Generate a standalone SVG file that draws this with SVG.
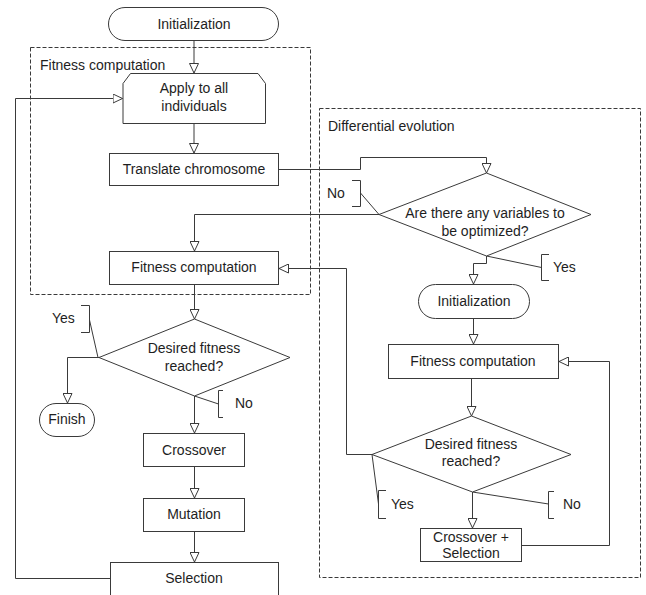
<svg xmlns="http://www.w3.org/2000/svg" width="646" height="595" viewBox="0 0 646 595">
<style>
.n{fill:#fff;stroke:#3a3a3a;stroke-width:1}
.t{font-family:"Liberation Sans",Arial,sans-serif;font-size:14px;fill:#1e1e1e}
.m{text-anchor:middle}
.c{fill:none;stroke:#3a3a3a;stroke-width:1}
.a{marker-end:url(#arr)}
.d{fill:none;stroke:#3a3a3a;stroke-width:1;stroke-dasharray:4 2}
</style>
<defs>
<marker id="arr" viewBox="0 0 10 10" refX="10" refY="5" markerWidth="10" markerHeight="10" markerUnits="userSpaceOnUse" orient="auto">
<path d="M0.5,0.5 L10,5 L0.5,9.5 Z" fill="#fff" stroke="#3a3a3a" stroke-width="1"/>
</marker>
</defs>
<rect width="646" height="595" fill="#fff"/>
<g id="groups">
<rect class="d" x="30.5" y="47.5" width="280" height="247"/>
<text class="t" x="40" y="70">Fitness computation</text>
<rect class="d" x="319.5" y="108.5" width="321" height="469"/>
<text class="t" x="328" y="131">Differential evolution</text>
</g>
<g id="connectors">
<path class="c a" d="M194,41 V73"/>
<path class="c a" d="M194,124 V153"/>
<path class="c a" d="M279,169.5 H360.5 V157.5 H486.5 V173"/>
<path class="c a" d="M379,214.5 H194.5 V251"/>
<path class="c a" d="M486.5,256 V263.5 H473.5 V284"/>
<path class="c a" d="M473.5,319 V344"/>
<path class="c a" d="M471.5,379 V416"/>
<path class="c a" d="M372,454.5 H346.5 V268.5 H279"/>
<path class="c a" d="M472.5,492 V528"/>
<path class="c a" d="M522,545.5 H609.5 V361.5 H559"/>
<path class="c a" d="M194.5,284 V319"/>
<path class="c a" d="M100,357.5 H67.5 V403"/>
<path class="c a" d="M194.5,396 V433"/>
<path class="c a" d="M194.5,467 V498"/>
<path class="c a" d="M194.5,532 V562"/>
<path class="c a" d="M110,578.5 H15.5 V98.5 H122.5"/>
</g>
<g id="labels">
<path class="c" d="M352,180.5 H360.5 V206.5 H352"/>
<path class="c" d="M360.5,193 L379,214.5"/>
<text class="t" x="327" y="198">No</text>
<path class="c" d="M549,254.5 H541.5 V280.5 H549"/>
<path class="c" d="M486.5,256 L541.5,267.5"/>
<text class="t" x="553" y="272">Yes</text>
<path class="c" d="M81,305.5 H89.5 V332.5 H81"/>
<path class="c" d="M89.5,320 L98,357.5"/>
<text class="t" x="52" y="323">Yes</text>
<path class="c" d="M223,390.5 H218.5 V417.5 H223"/>
<path class="c" d="M194.5,396 L218.5,404"/>
<text class="t" x="235" y="408">No</text>
<path class="c" d="M386,490.5 H378.5 V518.5 H386"/>
<path class="c" d="M372,454.5 L378.5,504"/>
<text class="t" x="391" y="509">Yes</text>
<path class="c" d="M554,491.5 H548.5 V518.5 H554"/>
<path class="c" d="M472.5,492 L548.5,504"/>
<text class="t" x="563" y="509">No</text>
</g>
<g id="init1">
<rect class="n" x="108.5" y="7.5" width="170" height="33" rx="16.5"/>
<text class="t m" x="194" y="29">Initialization</text>
</g>
<g id="apply">
<path class="n" d="M123,83.5 L130.5,73.5 H258 L265.5,83.5 V123.5 H123 Z"/>
<text class="t m" x="194" y="93">Apply to all</text>
<text class="t m" x="194" y="111">individuals</text>
</g>
<g id="translate">
<rect class="n" x="109.5" y="153.5" width="169" height="32"/>
<text class="t m" x="194" y="174">Translate chromosome</text>
</g>
<g id="fitness1">
<rect class="n" x="109.5" y="251.5" width="169" height="33"/>
<text class="t m" x="194" y="272">Fitness computation</text>
</g>
<g id="desired1">
<path class="n" d="M194.5,319 L290,357.5 L194.5,396 L99,357.5 Z"/>
<text class="t m" x="194" y="353">Desired fitness</text>
<text class="t m" x="194" y="371">reached?</text>
</g>
<g id="finish">
<rect class="n" x="39.5" y="403.5" width="55" height="33" rx="16.5"/>
<text class="t m" x="67" y="424">Finish</text>
</g>
<g id="crossover">
<rect class="n" x="143.5" y="433.5" width="101" height="33"/>
<text class="t m" x="194" y="455">Crossover</text>
</g>
<g id="mutation">
<rect class="n" x="143.5" y="498.5" width="101" height="33"/>
<text class="t m" x="194" y="519">Mutation</text>
</g>
<g id="selection">
<rect class="n" x="110.5" y="562.5" width="168" height="40"/>
<text class="t m" x="194" y="583">Selection</text>
</g>
<g id="variables">
<path class="n" d="M486.5,173 L591,214.5 L486.5,256 L379,214.5 Z"/>
<text class="t m" x="485" y="218">Are there any variables to</text>
<text class="t m" x="485" y="236">be optimized?</text>
</g>
<g id="init2">
<rect class="n" x="418.5" y="284.5" width="111" height="34" rx="17"/>
<text class="t m" x="474" y="306">Initialization</text>
</g>
<g id="fitness2">
<rect class="n" x="388.5" y="344.5" width="170" height="34"/>
<text class="t m" x="473" y="366">Fitness computation</text>
</g>
<g id="desired2">
<path class="n" d="M471.5,416 L571,454.5 L472.5,492 L372,454.5 Z"/>
<text class="t m" x="471" y="449">Desired fitness</text>
<text class="t m" x="471" y="466">reached?</text>
</g>
<g id="crosssel">
<rect class="n" x="420.5" y="528.5" width="101" height="33"/>
<text class="t m" x="471" y="542">Crossover +</text>
<text class="t m" x="471" y="558">Selection</text>
</g>
</svg>
